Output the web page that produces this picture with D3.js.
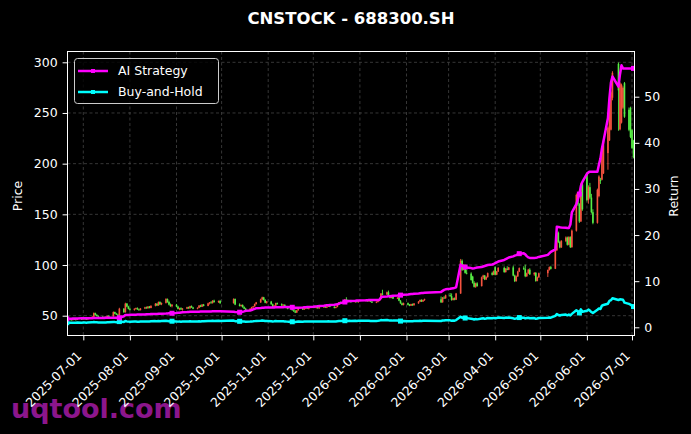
<!DOCTYPE html>
<html><head><meta charset="utf-8">
<script src="https://cdn.jsdelivr.net/npm/d3@7"></script>
<style>body{margin:0;background:#000}svg{display:block}text{font-family:"DejaVu Sans",sans-serif}</style>
</head><body><svg id="c" width="691" height="434"></svg>
<script>
// ---------- data ----------
const titleText = "CNSTOCK - 688300.SH";
const startDate = "2025-06-20", endDate = "2026-07-02";
const holidays = ["2025-10-01","2025-10-02","2025-10-03","2025-10-06","2025-10-07","2025-10-08",
  "2026-01-01","2026-01-02","2026-02-16","2026-02-17","2026-02-18","2026-02-19","2026-02-20","2026-02-23",
  "2026-04-06","2026-05-01","2026-05-04","2026-05-05","2026-06-19"];
const xTickLabels = ["2025-07-01","2025-08-01","2025-09-01","2025-10-01","2025-11-01","2025-12-01","2026-01-01",
  "2026-02-01","2026-03-01","2026-04-01","2026-05-01","2026-06-01","2026-07-01"];
const priceTicks = [50,100,150,200,250,300];
const returnTicks = [0,10,20,30,40,50];
const seriesNames = ["AI Strategy","Buy-and-Hold"];

const open = [
 45.8,46.0,45.6,46.5,46.3,45.9,46.8,
 46.6,47.2,46.9,46.4,47.3,49.0,52.5,50.8,49.6,48.9,48.0,48.7,48.2,49.8,49.3,53.6,51.9,51.2,50.4,56.9,53.5,61.9,59.0,
 56.8,55.8,56.9,57.4,56.2,55.5,57.1,58.2,57.3,59.0,57.6,59.8,61.8,60.1,63.5,61.2,62.6,66.4,63.5,60.9,59.4,
 60.8,59.0,56.8,57.4,56.1,57.0,58.3,57.2,59.4,58.1,56.9,57.8,60.0,58.8,61.0,59.6,62.2,63.1,62.4,64.8,63.4,64.5,
 62.3,66.5,61.0,59.6,60.5,58.4,57.0,55.6,56.9,58.3,59.2,61.5,63.1,66.2,68.1,65.6,62.8,
 63.9,61.3,58.7,59.9,62.4,61.4,60.1,60.8,59.0,57.6,56.8,55.4,54.3,53.1,55.3,57.4,56.1,57.2,58.1,57.0,
 57.9,58.8,57.9,58.5,57.3,58.2,59.1,58.0,58.9,60.4,58.8,57.7,58.6,60.8,63.0,62.0,65.9,65.4,63.7,65.0,63.3,64.2,63.5,
 64.4,65.6,64.3,65.2,63.8,62.9,63.7,64.6,66.5,71.8,70.9,73.1,69.4,67.6,68.9,66.9,67.8,64.8,62.2,60.6,
 62.4,60.7,59.9,61.4,60.3,62.1,63.9,65.5,64.0,65.4,66.2,63.2,67.8,67.1,
 70.2,69.3,65.5,67.2,65.8,71.9,104.2,95.3,99.6,92.3,91.5,88.6,82.3,78.5,81.9,79.2,87.9,89.6,85.8,88.1,92.0,90.4,
 97.8,90.5,93.6,97.2,93.0,96.4,95.3,97.6,89.6,84.1,88.8,93.5,96.9,95.9,88.9,91.8,95.4,90.8,92.3,84.3,87.8,
 91.9,95.1,97.9,96.3,114.6,131.9,122.8,117.4,123.8,127.1,120.0,127.5,117.6,133.9,169.2,160.1,143.0,179.5,
 189.5,164.2,176.8,166.5,152.1,141.6,168.0,184.0,184.2,190.5,210.4,223.0,233.5,265.0,298.5,233.8,240.5,255.2,279.4,253.2,255.0,
 233.0,222.3];
const high = [
 46.6,46.5,46.9,47.2,46.8,47.0,47.5,
 47.8,47.9,47.5,47.6,49.5,53.2,53.0,51.5,50.4,49.6,49.2,49.5,50.1,50.6,54.2,54.0,52.8,52.0,57.8,57.5,62.8,62.5,59.8,
 57.9,57.2,58.0,58.2,57.0,57.5,58.8,59.0,59.5,59.6,60.2,62.5,62.3,64.0,64.2,63.0,67.3,67.0,64.8,62.0,61.5,
 61.6,59.8,57.9,58.3,57.5,58.8,58.9,59.8,60.1,58.7,58.2,60.5,60.8,61.4,61.6,62.8,63.5,64.4,65.3,65.8,65.0,65.6,
 67.2,67.0,62.2,61.0,61.2,59.2,57.8,57.4,58.8,59.6,62.0,63.6,66.8,68.8,68.6,66.2,64.5,
 64.6,62.0,60.4,62.8,63.0,62.2,61.3,61.2,59.6,58.4,57.5,56.2,55.9,55.8,57.9,58.2,57.6,58.6,58.9,58.3,
 59.2,59.4,58.9,59.0,58.5,59.6,59.7,59.3,60.8,60.9,59.4,59.0,61.2,63.5,64.1,66.5,68.2,66.0,65.5,65.6,64.8,65.3,64.9,
 66.0,66.3,65.8,65.9,64.6,64.1,65.2,67.0,72.4,75.6,73.8,74.8,70.1,69.5,69.4,68.3,68.5,65.4,63.0,62.9,
 63.0,61.5,61.8,62.0,62.5,64.4,66.0,66.2,65.9,66.8,68.9,68.4,69.2,70.8,
 72.4,72.0,67.8,68.0,72.5,106.0,105.5,100.8,100.4,95.5,92.8,89.4,84.0,82.6,83.0,88.6,90.4,90.2,88.8,92.6,93.4,94.6,
 98.6,94.2,97.9,98.5,97.0,98.8,98.2,99.4,90.5,89.6,94.3,97.6,98.7,100.4,92.5,96.2,96.8,92.9,93.0,88.6,92.5,
 95.6,98.6,99.2,115.8,133.5,133.0,124.0,124.5,128.2,128.0,128.4,128.3,135.0,170.5,171.8,161.0,181.2,180.8,
 191.5,178.6,181.0,170.2,155.0,175.4,188.5,186.0,217.5,224.0,236.8,264.5,272.0,291.2,299.8,280.4,279.0,276.3,280.6,255.4,256.2,
 234.1,223.5];
const low = [
 45.2,45.3,45.4,46.0,45.5,45.7,46.2,
 46.2,46.5,46.0,46.1,47.0,48.6,50.2,49.3,48.5,47.6,47.4,47.9,48.0,48.9,49.0,51.4,50.6,49.8,50.0,52.8,53.0,58.4,56.2,
 55.2,55.0,56.1,55.8,54.9,55.2,56.5,56.9,57.0,57.2,57.3,59.2,59.5,59.8,60.5,60.4,62.0,62.8,60.2,58.8,58.2,
 58.5,56.2,55.4,55.8,55.0,56.6,56.9,57.0,57.8,56.4,56.3,57.5,58.4,58.5,59.2,59.3,61.0,62.0,62.0,62.9,62.6,61.8,
 62.0,60.4,59.1,58.8,58.0,56.5,55.2,55.0,56.4,57.5,58.9,61.0,62.6,65.4,65.0,62.3,61.9,
 60.8,58.2,58.3,59.6,60.9,59.7,59.5,58.6,57.2,56.3,55.0,53.8,52.6,52.8,55.0,55.6,55.8,56.5,56.7,56.2,
 57.4,57.5,57.1,56.8,56.9,57.8,57.7,57.5,58.6,58.4,57.2,57.3,58.3,60.5,61.6,61.8,64.8,63.2,63.3,62.9,62.8,63.0,62.7,
 64.0,63.9,63.8,63.4,62.5,62.4,63.1,64.2,66.0,70.2,70.4,68.8,67.1,67.2,66.5,66.4,64.3,61.8,60.1,60.2,
 60.2,59.4,59.6,59.8,60.0,61.8,63.4,63.5,63.7,64.6,62.5,62.9,66.6,66.8,
 68.6,64.8,65.0,65.2,65.5,71.5,94.2,94.8,91.5,90.8,84.6,81.6,77.8,77.5,78.6,78.8,86.2,85.1,85.2,87.5,89.7,90.0,
 89.8,90.0,93.1,92.4,92.6,94.8,94.9,88.9,83.2,83.6,88.2,93.0,95.2,88.0,88.3,91.2,90.2,89.4,83.5,83.9,87.4,
 88.2,94.5,95.6,96.0,113.8,121.6,116.5,116.9,122.6,119.2,119.4,116.8,117.1,133.0,158.4,141.6,142.5,153.5,
 162.8,160.5,165.2,150.8,140.2,140.8,166.8,180.0,183.6,189.8,194.0,222.4,232.8,262.5,232.5,232.9,239.6,254.0,245.2,232.0,225.2,
 214.5,205.2];
const close = [
 46.0,45.6,46.5,46.3,45.9,46.8,46.6,
 47.2,46.9,46.4,47.3,49.0,52.5,50.8,49.6,48.9,48.0,48.7,48.2,49.8,49.3,53.6,51.9,51.2,50.4,56.9,53.5,61.9,59.0,56.8,
 55.8,56.9,57.4,56.2,55.5,57.1,58.2,57.3,59.0,57.6,59.8,61.8,60.1,63.5,61.2,62.6,66.4,63.5,60.9,59.4,60.8,
 59.0,56.8,57.4,56.1,57.0,58.3,57.2,59.4,58.1,56.9,57.8,60.0,58.8,61.0,59.6,62.2,63.1,62.4,64.8,63.4,64.5,62.3,
 66.5,61.0,59.6,60.5,58.4,57.0,55.6,56.9,58.3,59.2,61.5,63.1,66.2,68.1,65.6,62.8,63.9,
 61.3,58.7,59.9,62.4,61.4,60.1,60.8,59.0,57.6,56.8,55.4,54.3,53.1,55.3,57.4,56.1,57.2,58.1,57.0,57.9,
 58.8,57.9,58.5,57.3,58.2,59.1,58.0,58.9,60.4,58.8,57.7,58.6,60.8,63.0,62.0,65.9,65.4,63.7,65.0,63.3,64.2,63.5,64.4,
 65.6,64.3,65.2,63.8,62.9,63.7,64.6,66.5,71.8,70.9,73.1,69.4,67.6,68.9,66.9,67.8,64.8,62.2,60.6,62.4,
 60.7,59.9,61.4,60.3,62.1,63.9,65.5,64.0,65.4,66.2,63.2,67.8,67.1,70.2,
 69.3,65.5,67.2,65.8,71.9,104.2,95.3,99.6,92.3,91.5,85.2,82.3,78.5,81.9,79.2,87.9,89.6,85.8,88.1,92.0,90.4,93.8,
 90.5,93.6,97.2,93.0,96.4,95.3,97.6,89.6,84.1,88.8,93.5,96.9,95.9,88.9,91.8,95.4,90.8,92.3,84.3,87.8,91.9,
 95.1,97.9,96.3,114.6,131.9,122.8,117.4,123.8,127.1,120.0,127.5,117.6,133.9,169.2,160.1,143.0,179.5,155.0,
 164.2,176.8,166.5,152.1,141.6,174.2,187.3,183.0,216.0,222.8,235.6,263.1,270.4,289.6,272.3,279.2,277.8,274.9,246.3,233.4,226.4,
 215.6,206.4];
// AI strategy curve (read in price units, left axis)
const aiStrategy = [
 47.0,47.1,47.2,47.2,47.3,47.3,47.4,
 47.4,47.5,47.5,47.6,47.6,47.7,47.7,47.7,47.8,47.8,47.8,47.9,47.9,47.9,48.0,48.0,48.0,48.0,48.0,49.5,50.7,50.8,50.8,
 50.9,51.0,51.0,51.1,51.1,51.2,51.3,51.4,51.5,51.5,51.6,51.7,51.8,51.9,52.0,52.0,52.1,52.2,52.3,52.4,52.4,
 52.6,52.8,53.0,53.2,53.4,53.6,53.7,53.8,53.9,54.0,54.0,54.0,54.1,54.1,54.1,54.2,54.2,54.2,54.3,54.3,54.3,54.3,
 53.8,53.6,53.4,53.6,53.9,54.3,54.8,55.2,55.6,56.2,56.8,57.4,57.6,57.8,57.9,58.0,58.1,
 58.1,58.2,58.2,58.3,58.3,58.4,58.4,58.5,58.5,58.5,58.3,58.0,57.8,57.8,57.9,58.1,58.3,58.4,58.5,58.6,
 58.8,59.0,59.2,59.4,59.6,59.8,60.0,60.2,60.4,60.6,60.8,61.0,61.2,62.0,62.4,63.5,64.0,64.2,64.4,64.6,64.8,65.0,65.1,
 65.2,65.3,65.4,65.5,65.5,65.5,65.6,65.8,68.0,68.7,69.0,69.2,69.3,69.5,69.7,69.9,70.1,70.3,70.5,70.7,
 70.9,71.1,71.3,71.5,71.7,71.9,72.1,72.3,72.5,72.7,73.5,74.5,75.5,76.0,
 76.5,76.8,77.0,77.5,78.0,100.5,99.0,98.5,98.0,97.5,97.0,96.5,96.8,97.2,97.6,98.0,98.5,99.0,99.5,100.0,100.5,101.0,
 101.8,102.6,103.4,105.0,105.8,106.6,107.4,108.5,109.2,109.8,110.5,111.2,111.5,110.5,108.8,107.5,107.0,107.0,107.2,107.5,108.0,
 110.0,111.5,113.0,115.5,137.8,137.5,137.2,137.0,136.8,136.6,136.5,140.0,152.0,160.0,165.0,170.0,178.0,182.0,
 190.0,191.5,192.0,192.0,192.0,192.0,199.0,205.0,215.0,222.0,245.0,265.0,280.0,286.0,276.0,288.0,297.0,294.0,294.0,294.0,294.0,
 294.0,294.0];
// Buy-and-hold (right axis, Return)
const buyHold = [
 1.00,0.99,1.01,1.01,1.00,1.02,1.01,
 1.03,1.02,1.01,1.03,1.07,1.14,1.10,1.08,1.06,1.04,1.06,1.05,1.08,1.07,1.17,1.13,1.11,1.10,1.24,1.16,1.35,1.28,1.23,
 1.21,1.24,1.25,1.22,1.21,1.24,1.27,1.25,1.28,1.25,1.30,1.34,1.31,1.38,1.33,1.36,1.44,1.38,1.32,1.29,1.32,
 1.28,1.23,1.25,1.22,1.24,1.27,1.24,1.29,1.26,1.24,1.26,1.30,1.28,1.33,1.30,1.35,1.37,1.36,1.41,1.38,1.40,1.35,
 1.45,1.33,1.30,1.32,1.27,1.24,1.21,1.24,1.27,1.29,1.34,1.37,1.44,1.48,1.43,1.37,1.39,
 1.33,1.28,1.30,1.36,1.33,1.31,1.32,1.28,1.25,1.23,1.20,1.18,1.15,1.20,1.25,1.22,1.24,1.26,1.24,1.26,
 1.28,1.26,1.27,1.25,1.27,1.28,1.26,1.28,1.31,1.28,1.25,1.27,1.32,1.37,1.35,1.43,1.42,1.38,1.41,1.38,1.40,1.38,1.40,
 1.43,1.40,1.42,1.39,1.37,1.38,1.40,1.45,1.56,1.54,1.59,1.51,1.47,1.50,1.45,1.47,1.41,1.35,1.32,1.36,
 1.32,1.30,1.33,1.31,1.35,1.39,1.42,1.39,1.42,1.44,1.37,1.47,1.46,1.53,
 1.51,1.42,1.46,1.43,1.56,2.27,2.07,2.17,2.01,1.99,1.85,1.79,1.71,1.78,1.72,1.91,1.95,1.87,1.92,2.00,1.97,2.04,
 1.97,2.03,2.11,2.02,2.10,2.07,2.12,1.95,1.83,1.93,2.03,2.11,2.08,1.93,2.00,2.07,1.97,2.01,1.83,1.91,2.00,
 2.07,2.13,2.09,2.49,2.87,2.67,2.55,2.69,2.76,2.61,2.77,2.56,2.91,3.68,3.48,3.11,3.90,3.37,
 3.57,3.84,3.62,3.31,3.08,3.79,4.07,3.98,4.70,4.84,5.12,5.72,5.88,6.30,5.92,6.07,6.04,5.98,5.35,5.07,4.92,
 4.69,4.49];

// ---------- trading calendar ----------
const parse = d3.utcParse("%Y-%m-%d"), fmt = d3.utcFormat("%Y-%m-%d");
const hol = new Set(holidays);
const dates = [];
for (let d = parse(startDate); d <= parse(endDate); d = d3.utcDay.offset(d, 1)) {
  const wd = d.getUTCDay();
  if (wd !== 0 && wd !== 6 && !hol.has(fmt(d))) dates.push(d);
}
const n = Math.min(dates.length, open.length, high.length, low.length, close.length, aiStrategy.length, buyHold.length);

// ---------- layout ----------
const L = 67.5, R = 634.5, T = 51.5, B = 335.5;
const svg = d3.select("#c");
svg.append("rect").attr("width", 691).attr("height", 434).attr("fill", "#000");

const x = d3.scaleUtc().domain([parse("2025-07-01"), parse("2026-07-01")]).range([83.3, 632]);
const yL = d3.scaleLinear().domain([50, 300]).range([315.7, 62.3]);
const yR = d3.scaleLinear().domain([0, 50]).range([327.3, 96.7]);

svg.append("defs").append("clipPath").attr("id", "clip")
  .append("rect").attr("x", L).attr("y", T).attr("width", R - L).attr("height", B - T);

// watermark (under labels)
svg.append("text").attr("x", 11).attr("y", 418).attr("font-size", 27).attr("font-weight", "bold")
  .attr("fill", "#8c168c").text("uqtool.com");

// grid
const grid = svg.append("g").attr("clip-path", "url(#clip)");
xTickLabels.forEach(s => grid.append("line").attr("x1", x(parse(s))).attr("x2", x(parse(s)))
  .attr("y1", T).attr("y2", B).attr("stroke", "#5a5a5a").attr("stroke-width", 0.6).attr("stroke-dasharray", "3,2.5"));
priceTicks.forEach(v => grid.append("line").attr("x1", L).attr("x2", R).attr("y1", yL(v)).attr("y2", yL(v))
  .attr("stroke", "#5a5a5a").attr("stroke-width", 0.6).attr("stroke-dasharray", "3,2.5"));

// candles
const upC = "#f5533f", downC = "#57ee45";
const cg = svg.append("g").attr("clip-path", "url(#clip)");
for (let i = 0; i < n; i++) {
  const cx = x(dates[i]);
  const col = close[i] >= open[i] ? upC : downC;
  cg.append("line").attr("x1", cx).attr("x2", cx).attr("y1", yL(high[i])).attr("y2", yL(low[i]))
    .attr("stroke", col).attr("stroke-width", 0.9);
  const yt = yL(Math.max(open[i], close[i])), yb = yL(Math.min(open[i], close[i]));
  cg.append("rect").attr("x", cx - 0.8).attr("width", 1.6).attr("y", yt).attr("height", Math.max(0.8, yb - yt))
    .attr("fill", col);
}

// lines
const idx = d3.range(n);
const lg = svg.append("g").attr("clip-path", "url(#clip)");
const cyanLine = d3.line().x(i => x(dates[i])).y(i => yR(buyHold[i]));
const magLine = d3.line().x(i => x(dates[i])).y(i => yL(aiStrategy[i]));
lg.append("path").attr("d", cyanLine(idx)).attr("fill", "none").attr("stroke", "#00ffff").attr("stroke-width", 2.5).attr("stroke-linejoin", "round");
lg.append("path").attr("d", magLine(idx)).attr("fill", "none").attr("stroke", "#ff00ff").attr("stroke-width", 2.5).attr("stroke-linejoin", "round");
const mk = idx.filter(i => i % 25 === 0);
lg.selectAll(".mc").data(mk).enter().append("rect").attr("x", i => x(dates[i]) - 2.5).attr("y", i => yR(buyHold[i]) - 2.5)
  .attr("width", 5).attr("height", 5).attr("fill", "#00ffff");
lg.selectAll(".mm").data(mk).enter().append("rect").attr("x", i => x(dates[i]) - 2.5).attr("y", i => yL(aiStrategy[i]) - 2.5)
  .attr("width", 5).attr("height", 5).attr("fill", "#ff00ff");

// axes
function styleAxis(g) {
  g.select(".domain").remove();
  g.selectAll(".tick line").attr("stroke", "#fff");
  g.selectAll(".tick text").attr("fill", "#fff").attr("font-size", 12.5).attr("font-family", "DejaVu Sans");
}
const xAxis = d3.axisBottom(x).tickValues(xTickLabels.map(parse)).tickFormat(fmt).tickSize(4.9).tickPadding(4.9);
const gx = svg.append("g").attr("transform", `translate(0,${B})`).call(xAxis).call(styleAxis);
gx.selectAll(".tick text").attr("text-anchor", "end").attr("dy", null).attr("y", null)
  .attr("transform", "translate(-1.5,21) rotate(-45)");

const gl = svg.append("g").attr("transform", `translate(${L},0)`)
  .call(d3.axisLeft(yL).tickValues(priceTicks).tickSize(4.9).tickPadding(4.9)).call(styleAxis);
const gr = svg.append("g").attr("transform", `translate(${R},0)`)
  .call(d3.axisRight(yR).tickValues(returnTicks).tickSize(4.9).tickPadding(4.9)).call(styleAxis);

// frame
svg.append("rect").attr("x", L).attr("y", T).attr("width", R - L).attr("height", B - T)
  .attr("fill", "none").attr("stroke", "#fff").attr("stroke-width", 1);

// labels
svg.append("text").attr("x", (L + R) / 2).attr("y", 24).attr("text-anchor", "middle")
  .attr("font-size", 16.5).attr("font-weight", "bold").attr("fill", "#fff").text(titleText);
svg.append("text").attr("transform", "translate(22,196) rotate(-90)").attr("text-anchor", "middle")
  .attr("font-size", 12.5).attr("fill", "#fff").text("Price");
svg.append("text").attr("transform", "translate(678,196) rotate(-90)").attr("text-anchor", "middle")
  .attr("font-size", 12.5).attr("fill", "#fff").text("Return");

// legend
const leg = svg.append("g");
leg.append("rect").attr("x", 74.5).attr("y", 58.5).attr("width", 144).attr("height", 45).attr("rx", 3)
  .attr("fill", "#000").attr("fill-opacity", 0.8).attr("stroke", "#cccccc").attr("stroke-width", 1);
const legColors = ["#ff00ff", "#00ffff"];
seriesNames.forEach((s, k) => {
  const yy = 71 + k * 21;
  leg.append("line").attr("x1", 78).attr("x2", 108).attr("y1", yy).attr("y2", yy).attr("stroke", legColors[k]).attr("stroke-width", 2.5);
  leg.append("rect").attr("x", 91).attr("y", yy - 2).attr("width", 4).attr("height", 4).attr("fill", legColors[k]);
  leg.append("text").attr("x", 118).attr("y", yy).attr("dy", "0.35em").attr("font-size", 12.5).attr("fill", "#fff").text(s);
});
</script></body></html>
